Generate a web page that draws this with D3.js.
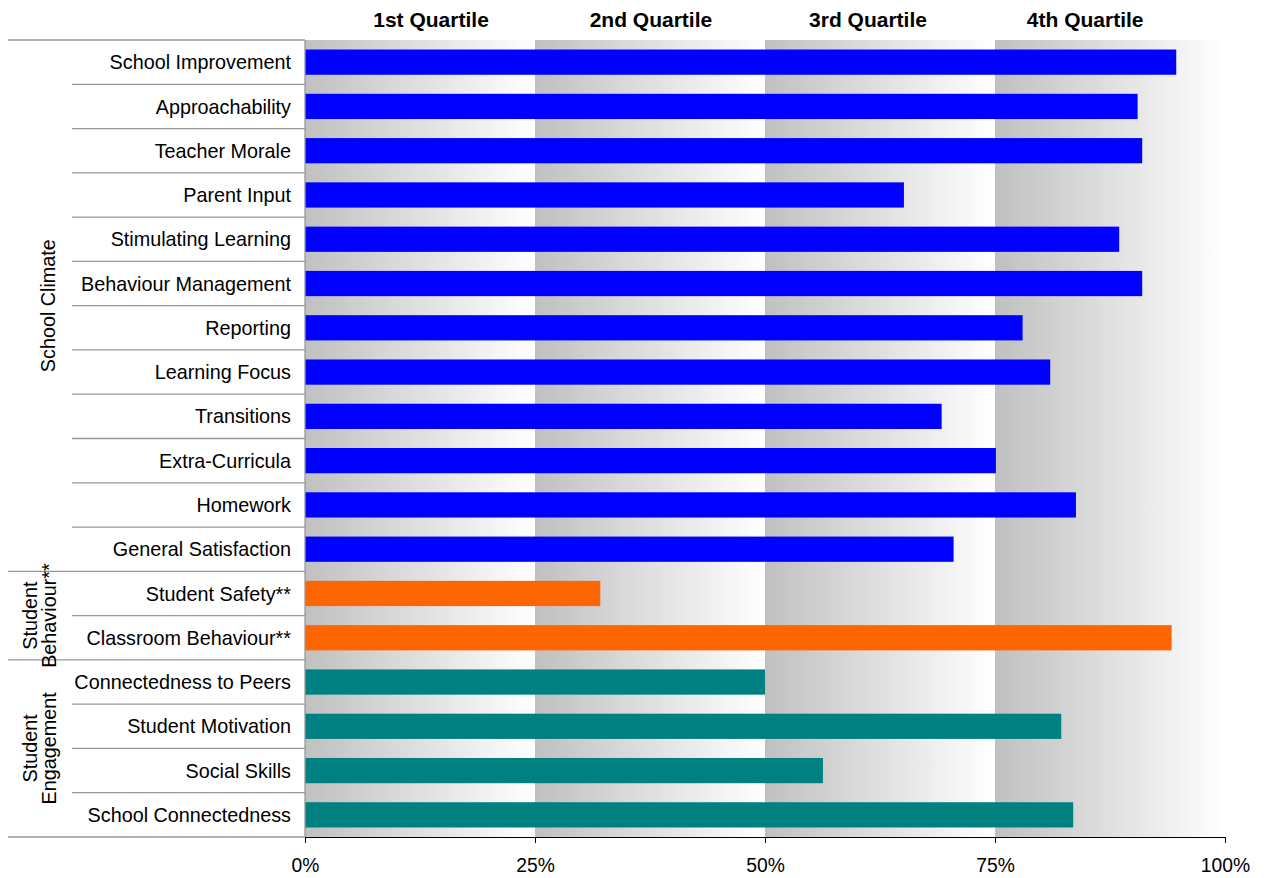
<!DOCTYPE html>
<html><head><meta charset="utf-8">
<script src="https://cdn.jsdelivr.net/npm/d3@7"></script>
<style>body{margin:0;background:#fff}svg{display:block;font-family:"Liberation Sans",Arial,sans-serif}</style>
</head><body><svg id="c" width="1266" height="878"></svg>
<script>
const categories = ["School Improvement","Approachability","Teacher Morale","Parent Input","Stimulating Learning","Behaviour Management","Reporting","Learning Focus","Transitions","Extra-Curricula","Homework","General Satisfaction","Student Safety**","Classroom Behaviour**","Connectedness to Peers","Student Motivation","Social Skills","School Connectedness"];
const values = [94.7,90.5,91.0,65.1,88.5,91.0,78.0,81.0,69.2,75.1,83.8,70.5,32.1,94.2,50.0,82.2,56.3,83.5];
const groupNames = ["School Climate","Student Behaviour**","Student Engagement"];
const groupLines = [["School Climate"],["Student","Behaviour**"],["Student","Engagement"]];
const groupSizes = [12,2,4];
const groupColors = ["#0000FF","#FF6600","#008080"];
const quartileLabels = ["1st Quartile","2nd Quartile","3rd Quartile","4th Quartile"];
const quartileLabelAt = [13.7,37.6,61.2,84.8];
const quartileBounds = [0,25,50,75,100];
const tickValues = [0,25,50,75,100];

const svg = d3.select("#c");
const m = {l:305, r:41, t:40, b:41};
const W = 1266, H = 878;
const x = d3.scaleLinear().domain([0,100]).range([m.l, W-m.r]);
const y = d3.scaleBand().domain(categories).range([m.t, H-m.b]).paddingInner(0.43).paddingOuter(0.215);
const step = y.step();

// gradient
const defs = svg.append("defs");
const g = defs.append("linearGradient").attr("id","qg").attr("x1","0").attr("x2","1").attr("y1","0").attr("y2","0");
g.append("stop").attr("offset","0").attr("stop-color","#c0c0c0");
g.append("stop").attr("offset","1").attr("stop-color","#ffffff");

svg.append("g").selectAll("rect").data(quartileBounds.slice(0,4)).join("rect")
  .attr("x",d=>x(d)).attr("width",(d,i)=>x(quartileBounds[i+1])-x(d))
  .attr("y",m.t).attr("height",H-m.b-m.t).attr("fill","url(#qg)");

svg.append("g").selectAll("text").data(quartileLabels).join("text")
  .attr("x",(d,i)=>x(quartileLabelAt[i])).attr("y",27)
  .attr("text-anchor","middle").attr("font-size",21).attr("font-weight","bold").text(d=>d);

// group index per category
const groupOf = [];
groupSizes.forEach((s,gi)=>{for(let k=0;k<s;k++)groupOf.push(gi);});

svg.append("g").selectAll("rect").data(categories).join("rect")
  .attr("x",x(0)).attr("y",d=>y(d)).attr("height",y.bandwidth())
  .attr("width",(d,i)=>x(values[i])-x(0)).attr("fill",(d,i)=>groupColors[groupOf[i]]);

// row lines
const starts = [0]; groupSizes.forEach((s,i)=>starts.push(starts[i]+s));
const rowTop = i => m.t + i*step;
const lines = svg.append("g").attr("stroke","#999").attr("stroke-width",1.3);
for(let i=0;i<=categories.length;i++){
  const isGroup = starts.includes(i);
  lines.append("line").attr("x1",isGroup?8:72).attr("x2",m.l).attr("y1",rowTop(i)).attr("y2",rowTop(i));
}
lines.append("line").attr("x1",m.l).attr("x2",m.l).attr("y1",m.t).attr("y2",H-m.b);

// category labels
svg.append("g").selectAll("text").data(categories).join("text")
  .attr("x",m.l-14).attr("y",d=>y(d)+y.bandwidth()/2).attr("dy","0.36em")
  .attr("text-anchor","end").attr("font-size",19.8).text(d=>d);

// group labels
groupLines.forEach((ls,gi)=>{
  const cy = (rowTop(starts[gi])+rowTop(starts[gi+1]))/2;
  const n = ls.length;
  const t = svg.append("text").attr("transform",`translate(${n===1?55:46},${cy}) rotate(-90)`)
    .attr("text-anchor","middle").attr("font-size",19.8);
  ls.forEach((l,k)=>t.append("tspan").attr("x",0).attr("y",(k-(n-1)/2)*19).text(l));
});

// x axis
const ax = svg.append("g").attr("transform",`translate(0,${H-m.b})`)
  .call(d3.axisBottom(x).tickValues(tickValues).tickFormat(d=>d+"%").tickSize(6).tickSizeOuter(0).tickPadding(15));
ax.select(".domain").attr("stroke","#000");
ax.selectAll("text").attr("font-size",19.3).attr("font-family","Liberation Sans, Arial, sans-serif").attr("fill","#000");
</script></body></html>
